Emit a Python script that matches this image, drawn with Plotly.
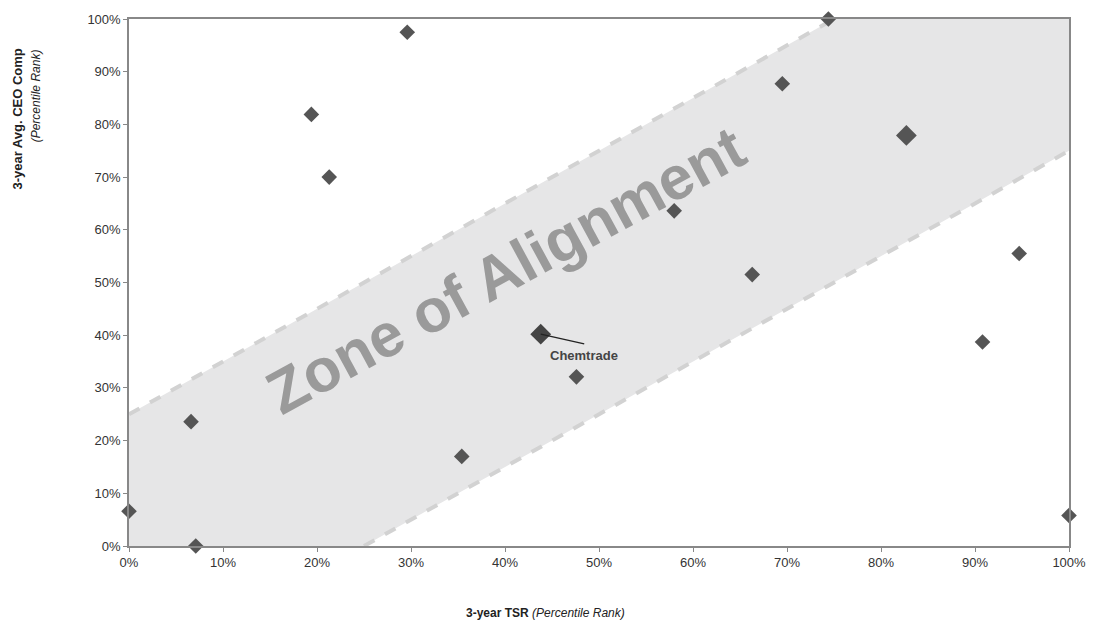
import plotly.graph_objects as go

# Data (percentile ranks, %)
tsr = [0, 6.6, 7.1, 19.4, 21.3, 29.6, 35.4, 47.6, 58.0, 66.3, 69.5, 74.4, 82.7, 90.8, 94.7, 100]
comp = [6.6, 23.6, 0, 81.9, 70.0, 97.5, 17.0, 32.1, 63.6, 51.5, 87.7, 100, 77.9, 38.7, 55.5, 5.8]
big_idx = [12]
chem_tsr = [43.8]
chem_comp = [40.2]

band_x = [0, 0, 75, 100, 100, 25, 0]
band_y = [0, 25, 100, 100, 75, 0, 0]
upper_x = [0, 75]
upper_y = [25, 100]
lower_x = [25, 100]
lower_y = [0, 75]

tickvals = list(range(0, 101, 10))
ticktext = [f"{v}%" for v in tickvals]

fig = go.Figure()
fig.add_trace(go.Scatter(x=band_x, y=band_y, fill="toself", fillcolor="#e6e6e7",
                         mode="none", hoverinfo="skip", showlegend=False))
for lx, ly in [(upper_x, upper_y), (lower_x, lower_y)]:
    fig.add_trace(go.Scatter(x=lx, y=ly, mode="lines",
                             line=dict(color="#d2d2d2", width=4, dash="dash"),
                             hoverinfo="skip", showlegend=False))

fig.add_annotation(x=40.1, y=52.4, text="<b>Zone of Alignment</b>", showarrow=False,
                   textangle=-28.5, font=dict(family="Liberation Sans, Arial", size=61, color="#9a9a9a"))

sizes = [16 if i in big_idx else 12 for i in range(len(tsr))]
fig.add_trace(go.Scatter(x=tsr, y=comp, mode="markers",
                         marker=dict(symbol="diamond", size=sizes, color="#555555", opacity=1,
                                     line=dict(width=0)),
                         cliponaxis=False, showlegend=False))
fig.add_trace(go.Scatter(x=chem_tsr, y=chem_comp, mode="markers",
                         marker=dict(symbol="diamond", size=16, color="#444444", opacity=1,
                                     line=dict(width=0)),
                         cliponaxis=False, showlegend=False))

fig.add_annotation(x=chem_tsr[0], y=chem_comp[0], ax=45, ay=10, axref="pixel", ayref="pixel",
                   text="", showarrow=True, arrowhead=0, arrowwidth=1.3, arrowcolor="#222")
fig.add_annotation(x=chem_tsr[0], y=chem_comp[0], xshift=43, yshift=-21, text="<b>Chemtrade</b>",
                   showarrow=False, font=dict(family="Liberation Sans, Arial", size=13, color="#444"))

fig.add_annotation(xref="paper", yref="paper", x=-0.119, y=0.947, xanchor="center", yanchor="top",
                   text="<b>3-year Avg. CEO Comp</b>", textangle=-90, showarrow=False,
                   font=dict(family="Liberation Sans, Arial", size=13, color="#222"))
fig.add_annotation(xref="paper", yref="paper", x=-0.098, y=0.947, xanchor="center", yanchor="top",
                   text="<i>(Percentile Rank)</i>", textangle=-90, showarrow=False,
                   font=dict(family="Liberation Sans, Arial", size=12, color="#222"))
fig.add_annotation(xref="paper", yref="paper", x=0.443, y=-0.128, xanchor="center", yanchor="middle",
                   text="<b>3-year TSR</b> <i>(Percentile Rank)</i>", showarrow=False,
                   font=dict(family="Liberation Sans, Arial", size=12, color="#222"))

axis_common = dict(range=[0, 100], tickmode="array", tickvals=tickvals, ticktext=ticktext,
                   showgrid=False, zeroline=False,
                   showline=True, linecolor="#888", linewidth=1.5, mirror=True,
                   ticks="outside", ticklen=4, tickcolor="#888",
                   tickfont=dict(family="Liberation Sans, Arial", size=13, color="#333"))
fig.update_xaxes(**axis_common)
fig.update_yaxes(**axis_common)

fig.update_layout(width=1098, height=621, margin=dict(l=129, r=21, t=16, b=75),
                  plot_bgcolor="white", paper_bgcolor="white")
fig.write_html("out.html", config={"displayModeBar": False})

with open("out.html", "r", encoding="utf-8") as f:
    html = f.read()
html = html.replace("<body>", '<body style="margin:0;padding:0;overflow:hidden">', 1)
with open("out.html", "w", encoding="utf-8") as f:
    f.write(html)
